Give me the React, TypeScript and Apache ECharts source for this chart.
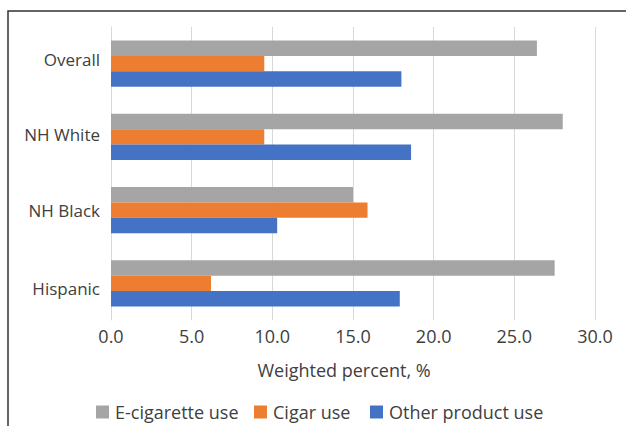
import React, { useEffect, useRef } from "react";
import * as echarts from "echarts";

const categories = ["Overall", "NH White", "NH Black", "Hispanic"];
const seriesNames = ["E-cigarette use", "Cigar use", "Other product use"];
const eCigarette = [26.4, 28.0, 15.0, 27.5];
const cigar = [9.5, 9.5, 15.9, 6.2];
const otherProduct = [18.0, 18.6, 10.3, 17.9];
const colors = ["#A5A5A5", "#ED7D31", "#4472C4"];
const xTicks = { min: 0, max: 30, interval: 5 };

const FONT = "Open Sans";
const TEXT = "#404040";

export default function App() {
  const ref = useRef<HTMLDivElement>(null);
  useEffect(() => {
    if (!ref.current) return;
    const chart = echarts.init(ref.current, undefined, { renderer: "svg" });
    const values = [eCigarette, cigar, otherProduct];
    const legendLefts = [96, 254, 370];
    chart.setOption({
      animation: false,
      backgroundColor: "#ffffff",
      textStyle: { fontFamily: FONT, color: TEXT },
      grid: { left: 111, right: 31, top: 27, bottom: 106, containLabel: false },
      xAxis: {
        type: "value",
        min: xTicks.min,
        max: xTicks.max,
        interval: xTicks.interval,
        axisLine: { show: false },
        axisTick: { show: false },
        splitLine: { show: true, lineStyle: { color: "#D9D9D9", width: 1 } },
        axisLabel: {
          color: TEXT,
          fontFamily: FONT,
          fontSize: 18,
          margin: 7,
          formatter: (v: number) => v.toFixed(1),
        },
        name: "Weighted percent, %",
        nameLocation: "middle",
        nameGap: 41,
        nameTextStyle: { color: TEXT, fontFamily: FONT, fontSize: 18, padding: [0, 18, 0, 0] },
      },
      yAxis: {
        type: "category",
        data: categories,
        inverse: true,
        axisLine: { show: true, lineStyle: { color: "#D9D9D9", width: 1 } },
        axisTick: { show: false },
        axisLabel: {
          color: TEXT,
          fontFamily: FONT,
          fontSize: 17,
          margin: 11,
          formatter: (v: string, i: number) => `{l${i}|${v}}`,
          rich: {
            l0: { fontFamily: FONT, fontSize: 17, color: TEXT, padding: [0, 0, 8, 0] },
            l1: { fontFamily: FONT, fontSize: 17, color: TEXT, padding: [0, 0, 4, 0] },
            l2: { fontFamily: FONT, fontSize: 17, color: TEXT },
            l3: { fontFamily: FONT, fontSize: 17, color: TEXT, padding: [10, 0, 0, 0] },
          },
        },
      },
      legend: seriesNames.map((name, i) => ({
        data: [name],
        left: legendLefts[i],
        top: 403,
        itemWidth: 13,
        itemHeight: 13,
        itemGap: 0,
        icon: "rect",
        padding: 0,
        textStyle: { color: TEXT, fontFamily: FONT, fontSize: 18, padding: [0, 0, 0, 1] },
      })),
      graphic: [
        {
          type: "rect",
          shape: { x: 8, y: 11, width: 700, height: 500 },
          style: { fill: "none", stroke: "#333333", lineWidth: 1.5 },
          silent: true,
        },
      ],
      series: seriesNames.map((name, i) => ({
        name,
        type: "bar",
        data: values[i],
        itemStyle: { color: colors[i] },
        barGap: "0%",
        barCategoryGap: "37%",
      })),
    });
    return () => chart.dispose();
  }, []);
  return (
    <div
      ref={ref}
      style={{ position: "fixed", left: 0, top: 0, width: 626, height: 426 }}
    />
  );
}
